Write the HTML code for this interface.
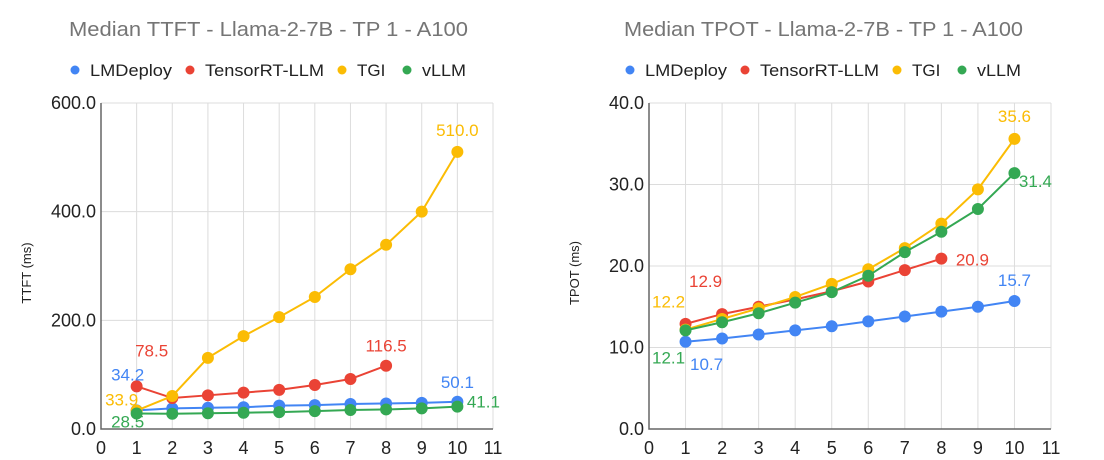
<!DOCTYPE html>
<html><head><meta charset="utf-8"><style>
body{margin:0;background:#fff;width:1104px;height:460px;overflow:hidden}
svg{display:block;font-family:"Liberation Sans",sans-serif}
</style></head><body>
<svg id="c" width="1104" height="460"></svg>
<script>
const xTicks=[0,1,2,3,4,5,6,7,8,9,10,11];
const xs=[1,2,3,4,5,6,7,8,9,10];
const seriesNames=["LMDeploy","TensorRT-LLM","TGI","vLLM"];
const colors=["#4285f4","#ea4335","#fbbc04","#34a853"];
const ttftLM=[34.2,38,39,40,43,44,46,47,48,50.1];
const ttftTRT=[78.5,57,62,67,72,81,92,116.5];
const ttftTGI=[33.9,60.7,131,171,206,243,294,339,400,510.0];
const ttftVLLM=[28.5,28,29,30,31,33,35,36,38,41.1];
const ttftYTicks=[0,200,400,600];
const tpotLM=[10.7,11.1,11.6,12.1,12.6,13.2,13.8,14.4,15.0,15.7];
const tpotTRT=[12.9,14.1,15.0,15.9,16.9,18.1,19.5,20.9];
const tpotTGI=[12.2,13.5,14.8,16.2,17.8,19.6,22.2,25.2,29.4,35.6];
const tpotVLLM=[12.1,13.1,14.2,15.5,16.8,18.8,21.7,24.2,27.0,31.4];
const tpotYTicks=[0,10,20,30,40];

const NS="http://www.w3.org/2000/svg";
const svg=document.getElementById('c');
function mk(tag,attrs,parent,text){const e=document.createElementNS(NS,tag);for(const k in attrs)e.setAttribute(k,attrs[k]);if(text!==undefined)e.textContent=text;(parent||svg).appendChild(e);return e;}

function chart(cfg){
  const g=mk('g',{});
  
  
  const L=cfg.left,R=cfg.right,T=103,B=429;
  const X=v=>L+(v-0)/11*(R-L);
  const Y=v=>B-v/cfg.ymax*(B-T);
  const t=mk('text',{x:cfg.titleX,y:36,'font-size':20,fill:'#757575',textLength:399,lengthAdjust:'spacingAndGlyphs'},g,cfg.title);
  
  
  const lx=[75,190,342,407];
  const tl=[82,119,0,44];
  seriesNames.forEach((n,i)=>{
    const c=mk('circle',{cx:cfg.titleX+lx[i]-69,cy:70,r:4.5,fill:colors[i]},g);
    
    
    const at={x:cfg.titleX+lx[i]-69+15,y:76,'font-size':17,fill:'#222'};
    if(tl[i]){at.textLength=tl[i];at.lengthAdjust='spacingAndGlyphs';}
    const tt=mk('text',at,g,n);
    
    
  });
  xTicks.forEach(v=>{
    if(v>0){const l=mk('line',{x1:X(v),x2:X(v),y1:T,y2:B,stroke:'#dcdcdc','stroke-width':1},g);
    
    }
    const tx=mk('text',{x:X(v),y:B+25,'font-size':18,fill:'#222','text-anchor':'middle'},g,String(v));
    
    
  });
  cfg.yticks.forEach(v=>{
    if(v>0){const l=mk('line',{x1:L,x2:R,y1:Y(v),y2:Y(v),stroke:'#dcdcdc','stroke-width':1},g);
    
    }
    const tx=mk('text',{x:L-5,y:Y(v)+6,'font-size':18,fill:'#222','text-anchor':'end'},g,v.toFixed(1));
    
    
  });
  const ax=mk('path',{d:`M${L} ${T}V${B}H${R}`,stroke:'#666','stroke-width':1.5,fill:'none'},g);
  
  
  const yt=mk('text',{x:0,y:0,'font-size':13,fill:'#222','text-anchor':'middle',transform:`translate(${L-70},273) rotate(-90)`},g,cfg.ytitle);
  
  
  cfg.data.forEach((d,i)=>{
    const pts=d.map((v,j)=>X(xs[j])+','+Y(v)).join(' ');
    const pl=mk('polyline',{points:pts,fill:'none',stroke:colors[i],'stroke-width':2},g);
    
    
    d.forEach((v,j)=>{
      const c=mk('circle',{cx:X(xs[j]),cy:Y(v),r:6,fill:colors[i]},g);
      
      
    });
  });
  cfg.labels.forEach(lb=>{
    const d=cfg.data[lb[0]];const j=lb[1];
    const tx=mk('text',{x:X(xs[j])+lb[2],y:Y(d[j])+lb[3],'font-size':17,fill:colors[lb[0]],'text-anchor':'middle'},g,d[j].toFixed(1));
    
    
  });
}
chart({name:'ttft-chart',title:'Median TTFT - Llama-2-7B - TP 1 - A100',titleX:69,left:101,right:493,ymax:600,yticks:ttftYTicks,ytitle:'TTFT (ms)',
  data:[ttftLM,ttftTRT,ttftTGI,ttftVLLM],
  labels:[[0,0,-9,-30],[1,0,15,-30],[2,0,-15,-5],[3,0,-9,14],[1,7,0,-14],[0,9,0,-14],[3,9,26,1],[2,9,0,-16]]});
chart({name:'tpot-chart',title:'Median TPOT - Llama-2-7B - TP 1 - A100',titleX:624,left:649,right:1051,ymax:40,yticks:tpotYTicks,ytitle:'TPOT (ms)',
  data:[tpotLM,tpotTRT,tpotTGI,tpotVLLM],
  labels:[[0,0,21,28],[1,0,20,-37],[2,0,-17,-22],[3,0,-17,33],[1,7,31,7],[0,9,0,-15],[3,9,21,14],[2,9,0,-17]]});
</script>
</body></html>
